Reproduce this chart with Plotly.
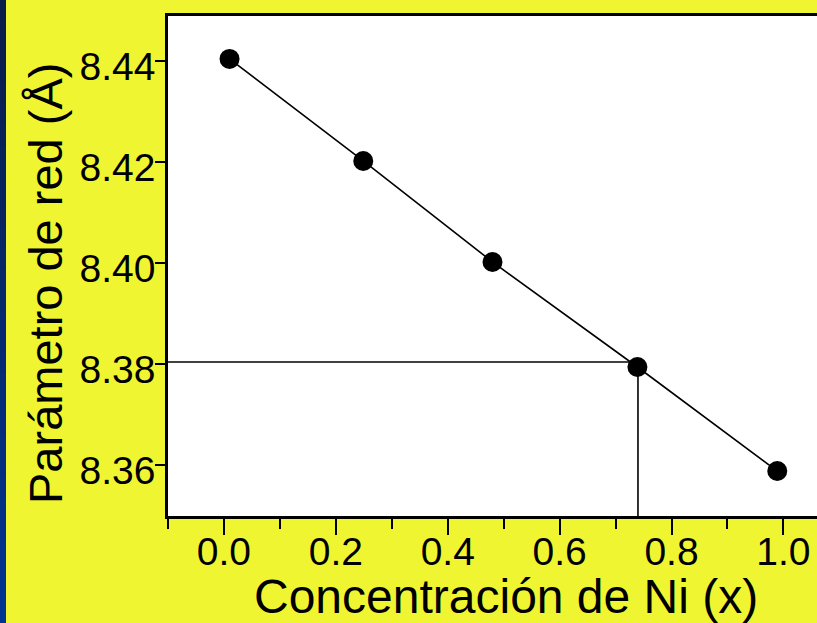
import plotly.graph_objects as go

# Lattice parameter vs. Ni concentration
concentracion_ni = [0.01, 0.249, 0.480, 0.739, 0.989]
parametro_red = [8.4405, 8.4203, 8.4003, 8.3795, 8.3589]

# Reading guide for the x = 0.74 sample
guia_x = 0.74
guia_y = 8.3805

x_ticks = [0.0, 0.2, 0.4, 0.6, 0.8, 1.0]
x_labels = ["0.0", "0.2", "0.4", "0.6", "0.8", "1.0"]
y_ticks = [8.36, 8.38, 8.40, 8.42, 8.44]
y_labels = ["8.36", "8.38", "8.40", "8.42", "8.44"]

titulo_x = "Concentración de Ni (x)"
titulo_y = "Parámetro de red (Å)"

W, H = 817, 623
ML, MT, MB, MR = 168, 16, 107, 0
X_RANGE = [-0.1, 1.06]
Y_RANGE = [8.35, 8.449]

FONT = "Arial, Liberation Sans, sans-serif"
AMARILLO = "#f0f532"

plot_w = W - ML - MR
plot_h = H - MT - MB


def px_to_paper_x(px):
    return (px - ML) / plot_w


def px_to_paper_y(py):
    return (H - MB - py) / plot_h


fig = go.Figure()

# guide lines: horizontal from the y axis, vertical down to the x axis
fig.add_trace(go.Scatter(
    x=[X_RANGE[0], guia_x], y=[guia_y, guia_y],
    mode="lines", line=dict(color="black", width=1.6),
    hoverinfo="skip", showlegend=False,
))
fig.add_trace(go.Scatter(
    x=[guia_x, guia_x], y=[guia_y, Y_RANGE[0]],
    mode="lines", line=dict(color="black", width=1.6),
    hoverinfo="skip", showlegend=False,
))

# measured points joined by a line
fig.add_trace(go.Scatter(
    x=concentracion_ni, y=parametro_red,
    mode="lines+markers",
    line=dict(color="black", width=1.6),
    marker=dict(color="black", size=20),
    showlegend=False,
))

# dark blue gradient strip on the left edge of the page
n_bands = 30
top_rgb = (10, 28, 72)
bot_rgb = (0, 52, 145)
shapes = []
band_h = H / n_bands
for i in range(n_bands):
    t = i / (n_bands - 1)
    r = round(top_rgb[0] + (bot_rgb[0] - top_rgb[0]) * t)
    g = round(top_rgb[1] + (bot_rgb[1] - top_rgb[1]) * t)
    b = round(top_rgb[2] + (bot_rgb[2] - top_rgb[2]) * t)
    shapes.append(dict(
        type="rect", xref="paper", yref="paper",
        x0=px_to_paper_x(0), x1=px_to_paper_x(6),
        y0=px_to_paper_y((i + 1) * band_h + 1), y1=px_to_paper_y(i * band_h - 1),
        fillcolor=f"rgb({r},{g},{b})", line=dict(width=0), layer="above",
    ))

annotations = [
    dict(text=titulo_x, xref="paper", yref="paper",
         x=px_to_paper_x(506), y=px_to_paper_y(596.5),
         xanchor="center", yanchor="middle", showarrow=False,
         font=dict(size=48, family=FONT, color="black")),
    dict(text=titulo_y, xref="paper", yref="paper", textangle=-90,
         x=px_to_paper_x(45), y=px_to_paper_y(284),
         xanchor="center", yanchor="middle", showarrow=False,
         font=dict(size=47, family=FONT, color="black")),
]

fig.update_layout(
    width=W, height=H,
    margin=dict(l=ML, r=MR, t=MT, b=MB, pad=0),
    paper_bgcolor=AMARILLO,
    plot_bgcolor="white",
    font=dict(family=FONT, color="black"),
    shapes=shapes,
    annotations=annotations,
    xaxis=dict(
        range=X_RANGE,
        tickmode="array", tickvals=x_ticks, ticktext=x_labels,
        ticks="outside", ticklen=16, tickwidth=2, tickcolor="black",
        tickfont=dict(size=39, family=FONT),
        ticklabelstandoff=-17,
        minor=dict(tickmode="linear", tick0=0.0, dtick=0.1, ticks="outside",
                   ticklen=10, tickwidth=2, tickcolor="black"),
        showline=True, linecolor="black", linewidth=2.5, mirror=True,
        showgrid=False, zeroline=False,
    ),
    yaxis=dict(
        range=Y_RANGE,
        tickmode="array", tickvals=y_ticks, ticktext=y_labels,
        ticks="outside", ticklen=10, tickwidth=2, tickcolor="black",
        tickfont=dict(size=39, family=FONT),
        ticklabelstandoff=-8, ticklabelshift=5,
        showline=True, linecolor="black", linewidth=2.5, mirror=False,
        showgrid=False, zeroline=False,
    ),
)

fig.write_html("out.html")
